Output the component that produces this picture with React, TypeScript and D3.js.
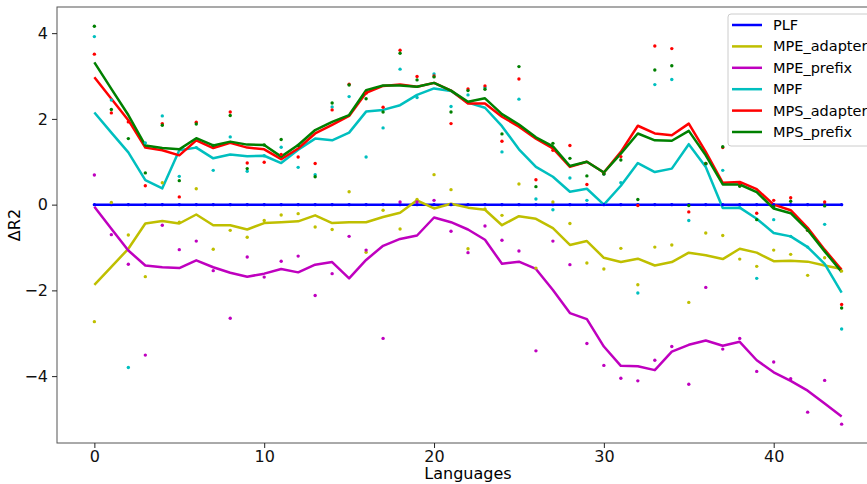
import React, {useEffect, useRef} from "react";
import * as d3 from "d3";

// x = language index 0..44
const languages = d3.range(45);

// smoothed curves
const plfLine = [0, 0, 0, 0, 0, 0, 0, 0, 0, 0, 0, 0, 0, 0, 0, 0, 0, 0, 0, 0, 0, 0, 0, 0, 0, 0, 0, 0, 0, 0, 0, 0, 0, 0, 0, 0, 0, 0, 0, 0, 0, 0, 0, 0, 0];
const mpeAdapterLine = [-1.87, -1.45, -1.03, -0.44, -0.38, -0.44, -0.23, -0.48, -0.48, -0.58, -0.43, -0.41, -0.39, -0.25, -0.43, -0.41, -0.41, -0.29, -0.19, 0.10, -0.09, 0.02, -0.07, -0.12, -0.48, -0.27, -0.33, -0.55, -0.94, -0.85, -1.24, -1.34, -1.26, -1.42, -1.34, -1.12, -1.18, -1.27, -1.03, -1.12, -1.32, -1.31, -1.33, -1.42, -1.50];
const mpePrefixLine = [-0.05, -0.56, -1.07, -1.42, -1.46, -1.48, -1.30, -1.46, -1.59, -1.68, -1.61, -1.50, -1.58, -1.40, -1.34, -1.72, -1.29, -0.96, -0.80, -0.72, -0.30, -0.41, -0.58, -0.82, -1.38, -1.33, -1.50, -1.99, -2.53, -2.67, -3.31, -3.76, -3.77, -3.86, -3.43, -3.27, -3.17, -3.29, -3.20, -3.63, -3.91, -4.11, -4.34, -4.64, -4.94];
const mpfLine = [2.15, 1.68, 1.22, 0.57, 0.38, 1.27, 1.33, 1.08, 1.17, 1.13, 1.14, 0.97, 1.28, 1.54, 1.50, 1.68, 2.17, 2.21, 2.32, 2.56, 2.71, 2.65, 2.38, 2.26, 1.83, 1.29, 0.88, 0.65, 0.30, 0.37, 0.00, 0.44, 0.97, 0.76, 0.84, 1.41, 0.88, -0.08, -0.07, -0.33, -0.66, -0.74, -0.99, -1.38, -2.05];
const mpsAdapterLine = [2.97, 2.47, 1.97, 1.33, 1.27, 1.15, 1.50, 1.32, 1.44, 1.33, 1.29, 1.06, 1.31, 1.66, 1.86, 2.07, 2.61, 2.77, 2.80, 2.75, 2.84, 2.66, 2.36, 2.36, 2.05, 1.82, 1.54, 1.31, 0.88, 1.00, 0.75, 1.23, 1.84, 1.66, 1.62, 1.89, 1.23, 0.51, 0.53, 0.36, 0.00, -0.13, -0.54, -1.05, -1.52];
const mpsPrefixLine = [3.32, 2.70, 2.09, 1.38, 1.32, 1.29, 1.55, 1.38, 1.47, 1.40, 1.39, 1.12, 1.39, 1.74, 1.93, 2.09, 2.67, 2.78, 2.78, 2.75, 2.84, 2.66, 2.40, 2.48, 2.11, 1.87, 1.57, 1.36, 0.90, 1.00, 0.75, 1.19, 1.66, 1.50, 1.49, 1.72, 1.15, 0.47, 0.47, 0.29, -0.09, -0.20, -0.59, -1.09, -1.57];

// raw per-language values (dots)
const plfDots = plfLine;
const mpeAdapterDots = [-2.73, 0.05, -0.71, -1.68, 0.51, -0.41, 0.37, -1.04, -0.60, -0.76, -0.37, -0.24, -0.21, -0.52, -0.58, 0.30, -1.11, -0.13, -0.57, 0.12, 0.70, 0.35, -1.03, -0.10, -0.25, 0.48, -1.48, 0.06, -0.44, -1.36, -1.50, -1.02, -1.87, -0.99, -0.94, -2.28, -0.66, -0.72, -1.27, -1.44, -1.06, -1.16, -1.65, -1.24, -1.55];
const mpePrefixDots = [0.69, -0.70, -1.39, -3.51, -0.48, -1.05, -0.85, -1.54, -2.65, -1.22, -1.69, -1.32, -1.20, -2.12, -1.61, -0.74, -1.06, -3.12, 0.06, 0.06, 0.10, -0.62, -1.12, -0.50, -0.83, -1.08, -3.41, -0.85, -1.40, -3.24, -3.75, -4.05, -4.11, -3.63, -3.31, -4.19, -1.93, -3.37, -3.12, -3.89, -3.67, -4.06, -4.84, -4.10, -5.12];
const mpfDots = [3.92, 2.44, -3.80, 1.44, 2.07, 0.66, 1.33, 0.80, 1.58, 0.78, 1.14, 1.34, 0.87, 0.70, 2.28, 2.52, 1.11, 1.79, 3.16, 2.50, 3.05, 2.29, 2.56, 2.73, 1.23, 2.46, 0.13, -0.12, 0.62, 0.10, 0.71, 0.51, -2.06, 2.80, 2.92, -0.37, 0.94, 0.80, -0.07, -1.72, -0.35, -0.74, -0.99, -0.46, -2.90];
const mpsAdapterDots = [3.51, 2.14, 1.93, 0.44, 1.89, 0.18, 1.92, 1.35, 2.16, 0.97, 0.99, 1.17, 1.11, 0.96, 2.21, 2.81, 2.60, 2.27, 3.60, 2.99, 3.00, 1.89, 2.70, 2.77, 1.48, 2.93, 0.58, 1.27, 1.38, 0.47, 0.72, 1.12, -0.02, 3.70, 3.64, -0.17, 0.96, 1.33, 0.50, -0.20, 0.10, 0.16, -0.60, 0.06, -2.33];
const mpsPrefixDots = [4.16, 2.22, 1.54, 0.74, 1.85, 0.56, 1.88, 1.38, 2.08, 0.84, 1.39, 1.52, 1.38, 0.65, 2.37, 2.79, 2.47, 2.16, 3.53, 2.91, 2.98, 2.16, 2.66, 2.69, 1.65, 3.22, 0.42, 1.43, 1.08, 0.67, 0.72, 1.04, 0.12, 3.14, 3.24, -0.02, 0.96, 1.35, 0.43, -0.35, -0.05, 0.08, -0.60, -0.03, -2.41];

const seriesNames = ["PLF", "MPE_adapter", "MPE_prefix", "MPF", "MPS_adapter", "MPS_prefix"];
const seriesColors = ["#0000ff", "#bfbf00", "#bf00bf", "#00bfbf", "#ff0000", "#008000"];
const seriesLines = [plfLine, mpeAdapterLine, mpePrefixLine, mpfLine, mpsAdapterLine, mpsPrefixLine];
const seriesDots = [plfDots, mpeAdapterDots, mpePrefixDots, mpfDots, mpsAdapterDots, mpsPrefixDots];

const xTicks = [0, 10, 20, 30, 40];
const yTicks = [-4, -2, 0, 2, 4];

function App() {
  const ref = useRef<SVGSVGElement>(null);
  const width = 867;
  const height = 484;
  const left = 57;
  const right = 879;
  const top = 7;
  const bottom = 443;
  const font = "'DejaVu Sans', sans-serif";

  useEffect(() => {
    const svg = d3.select(ref.current);
    svg.selectAll("*").remove();

    const x = d3.scaleLinear().domain([-2.2, 46.2]).range([left, right]);
    const y = d3.scaleLinear().domain([-5.56, 4.61]).range([bottom, top]);

    const plot = svg.append("g");
    const line = d3.line<number>()
      .x((d, i) => x(languages[i]))
      .y(d => y(d));

    // curves first, then raw dots on top
    seriesLines.forEach((vals, k) => {
      plot.append("path")
        .datum(vals)
        .attr("d", line)
        .attr("fill", "none")
        .attr("stroke", seriesColors[k])
        .attr("stroke-width", 2.5)
        .attr("stroke-linejoin", "round");
    });
    seriesDots.forEach((vals, k) => {
      plot.append("g").selectAll("circle")
        .data(vals)
        .join("circle")
        .attr("cx", (d, i) => x(languages[i]))
        .attr("cy", d => y(d))
        .attr("r", 1.7)
        .attr("fill", seriesColors[k]);
    });

    // frame
    svg.append("rect")
      .attr("x", left).attr("y", top)
      .attr("width", right - left).attr("height", bottom - top)
      .attr("fill", "none")
      .attr("stroke", "#555")
      .attr("stroke-width", 1);

    const xAxis = svg.append("g")
      .attr("transform", `translate(0,${bottom})`)
      .call(d3.axisBottom(x).tickValues(xTicks).tickSize(5).tickPadding(2));
    const yAxis = svg.append("g")
      .attr("transform", `translate(${left},0)`)
      .call(d3.axisLeft(y).tickValues(yTicks).tickSize(5).tickPadding(4));
    [xAxis, yAxis].forEach(a => {
      a.select(".domain").remove();
      a.selectAll("line").attr("stroke", "#222");
      a.selectAll("text").style("font-family", font).style("font-size", "16px").attr("fill", "#111");
    });
    xAxis.selectAll("text").attr("y", 7).attr("dy", "0.72em");

    svg.append("text")
      .attr("x", (left + right) / 2)
      .attr("y", 479)
      .attr("text-anchor", "middle")
      .style("font-family", font)
      .style("font-size", "16px")
      .text("Languages");
    svg.append("text")
      .attr("transform", `translate(20,${(top + bottom) / 2}) rotate(-90)`)
      .attr("text-anchor", "middle")
      .style("font-family", font)
      .style("font-size", "16px")
      .text("ΔR2");

    // legend
    const legend = svg.append("g").attr("transform", "translate(728,14)");
    legend.append("rect")
      .attr("width", 160).attr("height", 132)
      .attr("rx", 3)
      .attr("fill", "white").attr("fill-opacity", 0.8)
      .attr("stroke", "#ccc");
    const rows = legend.selectAll("g.row")
      .data(seriesNames)
      .join("g")
      .attr("class", "row")
      .attr("transform", (d, i) => `translate(0,${11 + i * 21.4})`);
    rows.append("line")
      .attr("x1", 4).attr("x2", 34)
      .attr("stroke", (d, i) => seriesColors[i])
      .attr("stroke-width", 2.5);
    rows.append("text")
      .attr("x", 45)
      .attr("dy", "0.35em")
      .style("font-family", font)
      .style("font-size", "14.5px")
      .text(d => d);
  }, []);

  return (
    <div style={{position: "absolute", left: 0, top: 0}}>
      <svg ref={ref} width={width} height={height} style={{display: "block", background: "white"}}/>
    </div>
  );
}

export default App;
